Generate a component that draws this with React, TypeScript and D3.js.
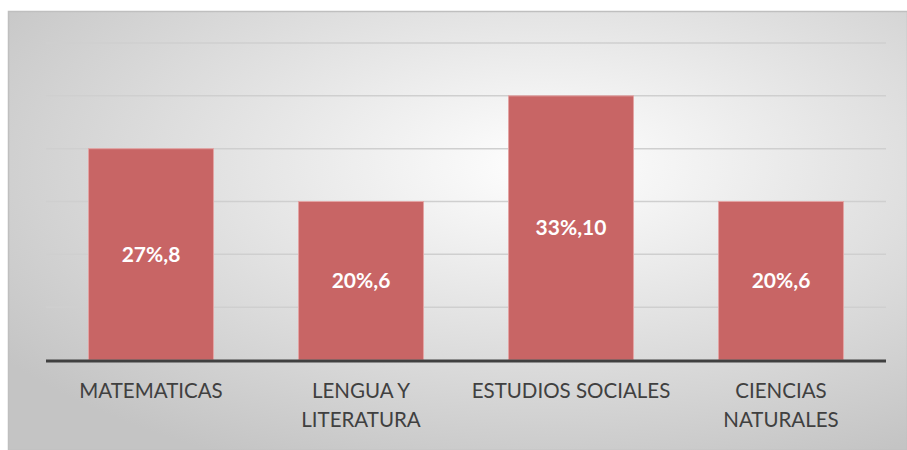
import { useEffect, useRef } from "react";
import * as d3 from "d3";

const categories = ["MATEMATICAS", "LENGUA Y LITERATURA", "ESTUDIOS SOCIALES", "CIENCIAS NATURALES"];
const categoryLines = [["MATEMATICAS"], ["LENGUA Y", "LITERATURA"], ["ESTUDIOS SOCIALES"], ["CIENCIAS", "NATURALES"]];
const values = [8, 6, 10, 6];
const percents = ["27%", "20%", "33%", "20%"];
const yTicks = [0, 2, 4, 6, 8, 10, 12];

function App() {
  const ref = useRef<SVGSVGElement>(null);
  const width = 907;
  const height = 450;
  const margin = { top: 43, right: 21, bottom: 90, left: 46 };

  useEffect(() => {
    const svg = d3.select(ref.current);
    svg.selectAll("*").remove();

    const defs = svg.append("defs");
    const grad = defs.append("radialGradient")
      .attr("id", "bg")
      .attr("cx", "60%").attr("cy", "35%").attr("r", "75%");
    grad.append("stop").attr("offset", "0%").attr("stop-color", "#ffffff");
    grad.append("stop").attr("offset", "100%").attr("stop-color", "#c4c4c4");

    svg.append("rect")
      .attr("x", 8.5).attr("y", 11.5)
      .attr("width", width - 8).attr("height", height - 11)
      .attr("fill", "url(#bg)")
      .attr("stroke", "#bfbfbf")
      .attr("stroke-width", 1.5);

    const innerW = width - margin.left - margin.right;
    const innerH = height - margin.top - margin.bottom;

    const x = d3.scaleBand<string>()
      .domain(categories)
      .range([margin.left, margin.left + innerW])
      .paddingInner(0.405)
      .paddingOuter(0.2025);

    const y = d3.scaleLinear()
      .domain([0, 12])
      .range([margin.top + innerH, margin.top]);

    svg.append("g")
      .selectAll("line")
      .data(yTicks.filter(t => t > 0))
      .join("line")
      .attr("x1", margin.left).attr("x2", margin.left + innerW)
      .attr("y1", d => y(d)).attr("y2", d => y(d))
      .attr("stroke", "#cfcfcf")
      .attr("stroke-width", 1.5);

    svg.append("g")
      .selectAll("rect")
      .data(values)
      .join("rect")
      .attr("x", (_, i) => x(categories[i])!)
      .attr("y", d => y(d))
      .attr("width", x.bandwidth())
      .attr("height", d => y(0) - y(d))
      .attr("fill", "#c86565")
      .attr("stroke", "#e3a4a4")
      .attr("stroke-width", 1);

    svg.append("line")
      .attr("x1", margin.left).attr("x2", margin.left + innerW)
      .attr("y1", y(0) + 1).attr("y2", y(0) + 1)
      .attr("stroke", "#404040")
      .attr("stroke-width", 3);

    svg.append("g")
      .selectAll("text")
      .data(values)
      .join("text")
      .attr("x", (_, i) => x(categories[i])! + x.bandwidth() / 2)
      .attr("y", d => (y(d) + y(0)) / 2 + 2)
      .attr("text-anchor", "middle")
      .attr("dominant-baseline", "middle")
      .attr("fill", "#ffffff")
      .style("font-family", "Lato, 'Open Sans', sans-serif")
      .style("font-size", "21px")
      .style("font-weight", 700)
      .text((d, i) => `${percents[i]},${d}`);

    const labels = svg.append("g")
      .selectAll("text")
      .data(categoryLines)
      .join("text")
      .attr("x", (_, i) => x(categories[i])! + x.bandwidth() / 2)
      .attr("y", 393)
      .attr("text-anchor", "middle")
      .attr("dominant-baseline", "middle")
      .attr("fill", "#404040")
      .style("font-family", "Lato, 'Open Sans', sans-serif")
      .style("font-size", "20.5px");

    labels.selectAll("tspan")
      .data(d => d)
      .join("tspan")
      .attr("x", function () {
        return (this.parentNode as SVGTextElement).getAttribute("x");
      })
      .attr("dy", (_, j) => (j === 0 ? 0 : 29))
      .text(d => d);
  }, []);

  return (
    <svg
      ref={ref}
      width={width}
      height={height}
      style={{ position: "absolute", left: 0, top: 0, display: "block" }}
    />
  );
}

export default App;
